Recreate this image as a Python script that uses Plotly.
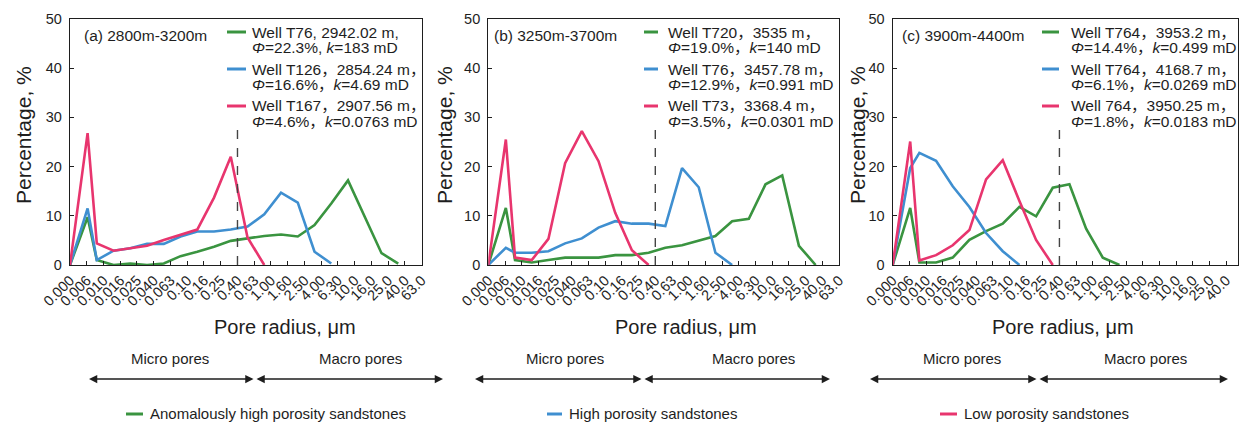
import plotly.graph_objects as go

W, H = 1239, 423
FONT = "Liberation Sans, Arial, Noto Sans CJK SC, sans-serif"
INK = "#1e1e1e"

# ---------------- data ----------------
TICK_LABELS = ["0.000", "0.006", "0.010", "0.016", "0.025", "0.040", "0.063", "0.10",
               "0.16", "0.25", "0.40", "0.63", "1.00", "1.60", "2.50", "4.00", "6.30",
               "10.0", "16.0", "25.0", "40.0", "63.0"]
# category-index positions of the measured points (first at 0.000, second at 0.006, rest at bin centres)
X_POS = [0.0, 1.05, 1.6, 2.6, 3.6, 4.6, 5.6, 6.6, 7.6, 8.6, 9.6, 10.6, 11.6, 12.6,
         13.6, 14.6, 15.6, 16.6, 17.6, 18.6, 19.6]

# (a) 2800m-3200m
A_GREEN = [0, 9.7, 1.0, 0.0, 0.3, 0.0, 0.3, 1.8, 2.7, 3.7, 4.9, 5.4, 5.9, 6.2, 5.8, 8.1, 12.5, 17.2, 9.8, 2.4, 0.3]
A_BLUE = [0, 11.5, 1.0, 2.9, 3.4, 4.3, 4.3, 5.8, 6.8, 6.8, 7.2, 7.8, 10.3, 14.7, 12.7, 2.7, 0.3]
A_PINK = [0, 26.8, 4.4, 2.9, 3.4, 3.9, 5.1, 6.1, 7.2, 13.7, 22.0, 5.6, 0]

# (b) 3250m-3700m
B_GREEN = [0, 11.6, 1.0, 0.5, 1.0, 1.5, 1.5, 1.5, 2.0, 2.0, 2.5, 3.5, 4.0, 4.9, 5.9, 8.9, 9.4, 16.4, 18.2, 3.9, 0]
B_BLUE = [0, 3.5, 2.5, 2.5, 2.8, 4.4, 5.4, 7.6, 8.9, 8.4, 8.4, 7.9, 19.7, 15.8, 2.5, 0]
B_PINK = [0, 25.5, 1.5, 1.0, 5.3, 20.7, 27.2, 21.1, 10.6, 3.0, 0]

# (c) 3900m-4400m
C_GREEN = [0, 11.6, 0.5, 0.5, 1.5, 5.1, 6.9, 8.4, 11.8, 9.9, 15.7, 16.4, 7.4, 1.5, 0]
C_BLUE = [0, 19.7, 22.8, 21.2, 16.0, 11.8, 6.5, 2.8, 0]
C_PINK = [0, 25.1, 0.9, 2.0, 4.0, 7.1, 17.4, 21.3, 13.0, 5.1, 0]

BOUNDARY_INDEX = 10       # 0.40 µm micro / macro boundary
BOUNDARY_TOP = 27.7

PANEL_TITLES = ["(a) 2800m-3200m", "(b) 3250m-3700m", "(c) 3900m-4400m"]
LEGENDS = [
    [("Well T76, 2942.02 m,", "<i>Φ</i>=22.3%, <i>k</i>=183 mD"),
     ("Well T126，2854.24 m，", "<i>Φ</i>=16.6%，<i>k</i>=4.69 mD"),
     ("Well T167，2907.56 m，", "<i>Φ</i>=4.6%，<i>k</i>=0.0763 mD")],
    [("Well T720，3535 m，", "<i>Φ</i>=19.0%，<i>k</i>=140 mD"),
     ("Well T76，3457.78 m，", "<i>Φ</i>=12.9%，<i>k</i>=0.991 mD"),
     ("Well T73，3368.4 m，", "<i>Φ</i>=3.5%，<i>k</i>=0.0301 mD")],
    [("Well T764，3953.2 m，", "<i>Φ</i>=14.4%，<i>k</i>=0.499 mD"),
     ("Well T764，4168.7 m，", "<i>Φ</i>=6.1%，<i>k</i>=0.0269 mD"),
     ("Well 764，3950.25 m，", "<i>Φ</i>=1.8%，<i>k</i>=0.0183 mD")],
]
GROUP_NAMES = ["Anomalously high porosity sandstones", "High porosity sandstones", "Low porosity sandstones"]

GREEN, BLUE, PINK = "#3a9440", "#3f8fd0", "#e8356e"
COLORS = [GREEN, BLUE, PINK]
SERIES = [[A_GREEN, A_BLUE, A_PINK], [B_GREEN, B_BLUE, B_PINK], [C_GREEN, C_BLUE, C_PINK]]

# ---------------- layout geometry (pixels) ----------------
PLOT_TOP, PLOT_BOTTOM = 19, 265
PANEL_X = [(70, 421.7, 21.0), (488.3, 839.0, 21.0), (892.7, 1238.0, 20.71)]
YTITLE_X = [23, 444, 857]
TITLE_X = [82, 492, 900]
LEG_SWATCH = [(227, 246), (644, 658), (1042, 1059)]
LEG_TEXT_X = [250, 666, 1069]
LEG_Y = [(32, 48), (69, 85), (106, 122)]
XTITLE_X = [285, 686, 1063]
MICRO_X = [170, 565, 962]
MACRO_X = [360, 753, 1145]
ARROW = [(89, 255, 443), (475, 643, 830), (870, 1038, 1228)]
BOTTOM_SWATCH = [(126, 143), (547, 562), (940, 957)]
BOTTOM_Y = 413


def px(x):
    return x / W


def py(y):
    return 1 - y / H


fig = go.Figure()
annotations = []
shapes = []

for p in range(3):
    xa = "x" if p == 0 else f"x{p + 1}"
    ya = "y" if p == 0 else f"y{p + 1}"
    xl, xr, rng = PANEL_X[p]
    axis_common = dict(showline=True, mirror=True, linecolor=INK, linewidth=1.3,
                       ticks="inside", ticklen=4, tickwidth=1, tickcolor=INK,
                       showgrid=False, zeroline=False, automargin=False)
    fig.update_layout(**{
        ("xaxis" if p == 0 else f"xaxis{p + 1}"): dict(
            domain=[px(xl), px(xr)], range=[0, rng], anchor=ya,
            tickmode="array", tickvals=list(range(len(TICK_LABELS))), ticktext=TICK_LABELS,
            tickangle=-45, tickfont=dict(family=FONT, size=14.5, color=INK), **axis_common),
        ("yaxis" if p == 0 else f"yaxis{p + 1}"): dict(
            domain=[py(PLOT_BOTTOM), py(PLOT_TOP)], range=[0, 50], anchor=xa,
            tickvals=[0, 10, 20, 30, 40, 50], ticklabelstandoff=4,
            tickfont=dict(family=FONT, size=14.5, color=INK), **axis_common),
    })
    for vals, col in zip(SERIES[p], COLORS):
        fig.add_trace(go.Scatter(x=X_POS[:len(vals)], y=vals, mode="lines",
                                 line=dict(color=col, width=2.6), showlegend=False,
                                 xaxis=xa, yaxis=ya, hoverinfo="skip"))
    # micro/macro boundary
    shapes.append(dict(type="line", xref=xa, yref=ya, x0=BOUNDARY_INDEX, x1=BOUNDARY_INDEX,
                       y0=0, y1=BOUNDARY_TOP, line=dict(color="#444", width=1.4, dash="dash")))
    # y title
    annotations.append(dict(text="Percentage, %", xref="paper", yref="paper",
                            x=px(YTITLE_X[p]), y=py((PLOT_TOP + PLOT_BOTTOM) / 2 - 7),
                            xanchor="center", yanchor="middle",
                            textangle=-90, showarrow=False,
                            font=dict(family=FONT, size=21, color=INK)))
    # panel title
    annotations.append(dict(text=PANEL_TITLES[p], xref="paper", yref="paper",
                            x=px(TITLE_X[p]), y=py(35), xanchor="left", yanchor="middle",
                            showarrow=False, font=dict(family=FONT, size=15.5, color=INK)))
    # in-plot legend
    for (l1, l2), col, (y1, y2) in zip(LEGENDS[p], COLORS, LEG_Y):
        sx0, sx1 = LEG_SWATCH[p]
        shapes.append(dict(type="line", xref="paper", yref="paper", x0=px(sx0), x1=px(sx1),
                           y0=py(y1), y1=py(y1), line=dict(color=col, width=3)))
        for txt, yy in ((l1, y1), (l2, y2)):
            annotations.append(dict(text=txt, xref="paper", yref="paper",
                                    x=px(LEG_TEXT_X[p]), y=py(yy), xanchor="left", yanchor="middle",
                                    showarrow=False, font=dict(family=FONT, size=15.5, color=INK)))
    # x title
    annotations.append(dict(text="Pore radius, μm", xref="paper", yref="paper",
                            x=px(XTITLE_X[p]), y=py(327), xanchor="center", yanchor="middle",
                            showarrow=False, font=dict(family=FONT, size=20, color=INK)))
    annotations.append(dict(text="Micro pores", xref="paper", yref="paper",
                            x=px(MICRO_X[p]), y=py(358), xanchor="center", yanchor="middle",
                            showarrow=False, font=dict(family=FONT, size=15, color=INK)))
    annotations.append(dict(text="Macro pores", xref="paper", yref="paper",
                            x=px(MACRO_X[p]), y=py(358), xanchor="center", yanchor="middle",
                            showarrow=False, font=dict(family=FONT, size=15, color=INK)))
    a0, am, a1 = ARROW[p]
    for end in (a0, a1):
        annotations.append(dict(text="", xref="paper", yref="paper", x=px(end), y=py(379),
                                ax=am - end, ay=0, axref="pixel", ayref="pixel",
                                showarrow=True, arrowhead=2, arrowside="end+start",
                                arrowsize=1.1, arrowwidth=1.5, arrowcolor=INK,
                                standoff=0, startstandoff=0))
    # bottom group legend
    bx0, bx1 = BOTTOM_SWATCH[p]
    shapes.append(dict(type="line", xref="paper", yref="paper", x0=px(bx0), x1=px(bx1),
                       y0=py(BOTTOM_Y + 1), y1=py(BOTTOM_Y + 1), line=dict(color=COLORS[p], width=3)))
    annotations.append(dict(text=GROUP_NAMES[p], xref="paper", yref="paper",
                            x=px(bx1 + 5), y=py(BOTTOM_Y), xanchor="left", yanchor="middle",
                            showarrow=False, font=dict(family=FONT, size=15, color=INK)))

fig.update_layout(width=W, height=H, margin=dict(l=0, r=0, t=0, b=0, autoexpand=False),
                  paper_bgcolor="white", plot_bgcolor="white",
                  annotations=annotations, shapes=shapes, showlegend=False,
                  font=dict(family=FONT, color=INK))

fig.write_html("out.html")
